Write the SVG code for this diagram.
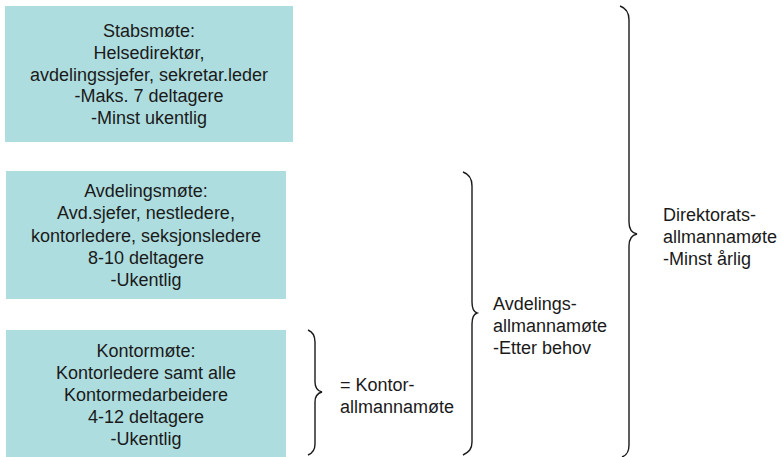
<svg xmlns="http://www.w3.org/2000/svg" width="782" height="457" viewBox="0 0 782 457">
  <style>
    .box { fill: #aedddf; }
    .t { font-family: "Liberation Sans", Arial, sans-serif; font-size: 18px; fill: #1a1a1a; }
    .c { text-anchor: middle; }
    .brace { fill: none; stroke: #1a1a1a; stroke-width: 1.4; }
  </style>

  <g id="stabsmote">
    <rect class="box" x="5" y="6" width="288" height="136"/>
    <text class="t c" x="149" y="37">Stabsmøte:</text>
    <text class="t c" x="149" y="59">Helsedirektør,</text>
    <text class="t c" x="149" y="81">avdelingssjefer, sekretar.leder</text>
    <text class="t c" x="149" y="102">-Maks. 7 deltagere</text>
    <text class="t c" x="149" y="124">-Minst ukentlig</text>
  </g>

  <g id="avdelingsmote">
    <rect class="box" x="6" y="171" width="280" height="128"/>
    <text class="t c" x="146" y="197">Avdelingsmøte:</text>
    <text class="t c" x="146" y="219">Avd.sjefer, nestledere,</text>
    <text class="t c" x="146" y="242">kontorledere, seksjonsledere</text>
    <text class="t c" x="146" y="264">8-10 deltagere</text>
    <text class="t c" x="146" y="286">-Ukentlig</text>
  </g>

  <g id="kontormote">
    <rect class="box" x="6" y="330" width="280" height="127"/>
    <text class="t c" x="146" y="357">Kontormøte:</text>
    <text class="t c" x="146" y="379">Kontorledere samt alle</text>
    <text class="t c" x="146" y="401">Kontormedarbeidere</text>
    <text class="t c" x="146" y="423">4-12 deltagere</text>
    <text class="t c" x="146" y="445">-Ukentlig</text>
  </g>

  <g id="braces">
    <path class="brace" d="M308,330 C313,332 315,336 315,342 L315,382 C315,388 318,391 322,392 C318,393 315,396 315,402 L315,444 C315,450 313,453 308,455"/>
    <path class="brace" d="M463,172 C469,174 472,179 472,186 L472,302 C472,308 474,312 477,313 C474,314 472,318 472,324 L472,442 C472,449 469,452 463,455"/>
    <path class="brace" d="M620,6 C626,8 629,12 629,20 L629,222 C629,229 632,233 637,234 C632,235 629,239 629,246 L629,445 C629,452 627,455 622,457"/>
  </g>

  <g id="kontor-allmannamote">
    <text class="t" x="340" y="391">= Kontor-</text>
    <text class="t" x="340" y="413">allmannamøte</text>
  </g>

  <g id="avdelings-allmannamote">
    <text class="t" x="493" y="310">Avdelings-</text>
    <text class="t" x="493" y="332">allmannamøte</text>
    <text class="t" x="493" y="354">-Etter behov</text>
  </g>

  <g id="direktorats-allmannamote">
    <text class="t" x="663" y="221">Direktorats-</text>
    <text class="t" x="663" y="243">allmannamøte</text>
    <text class="t" x="663" y="265">-Minst årlig</text>
  </g>
</svg>
